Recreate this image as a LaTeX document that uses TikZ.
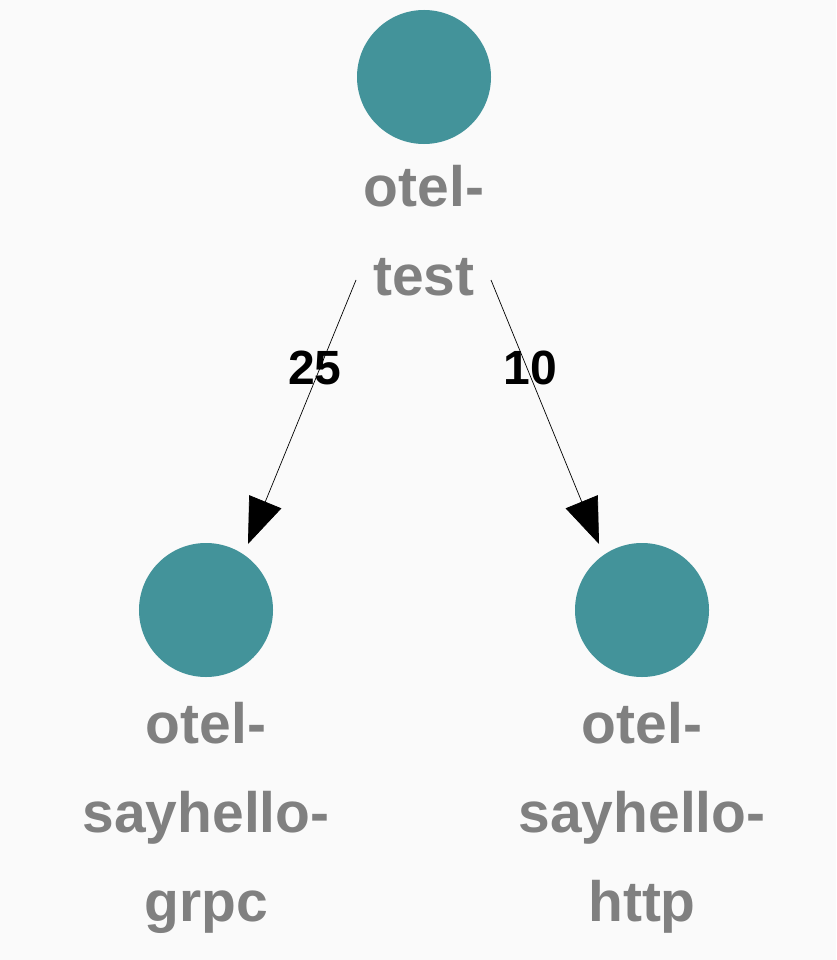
\documentclass[tikz,border=0pt]{standalone}
\usepackage{fontspec}
\setmainfont{Liberation Sans}
\usetikzlibrary{positioning,arrows.meta}
\definecolor{svcteal}{HTML}{43939A}
\definecolor{svcgray}{HTML}{808080}
\definecolor{canvas}{HTML}{FAFAFA}
\begin{document}
\begin{tikzpicture}[x=0.03cm,y=-0.03cm,
    svc/.style={circle, draw=none, fill=svcteal, minimum size=4.02cm, inner sep=0pt},
    svclabel/.style={text=svcgray, font=\fontsize{48.6}{76}\selectfont\bfseries, align=center, inner sep=0pt},
    count/.style={font=\fontsize{41}{41}\selectfont\bfseries, inner sep=0pt},
    edge/.style={line width=0.6pt, -{Triangle[length=1.37cm,width=1.04cm]}}]

    \fill[canvas] (0,0) rectangle (836,960);

    \node(test)[svc] at (424,77) {};
    \node(grpc)[svc] at (206,610) {};
    \node(http)[svc] at (642,610) {};

    \node(test-label)[svclabel, below=0.63cm of test] {otel-\\test};
    \node(grpc-label)[svclabel, below=0.75cm of grpc] {otel-\\sayhello-\\grpc};
    \node(http-label)[svclabel, below=0.75cm of http] {otel-\\sayhello-\\http};

    \coordinate(test-out-l) at (356,280);
    \coordinate(test-out-r) at (491,280);
    \coordinate(grpc-in) at (248,544);
    \coordinate(http-in) at (599,544);

    \draw[edge] (test-out-l) -- (grpc-in);
    \draw[edge] (test-out-r) -- (http-in);

    \node(count-grpc)[count] at (315,368) {25};
    \node(count-http)[count] at (530,368) {10};
\end{tikzpicture}
\end{document}
